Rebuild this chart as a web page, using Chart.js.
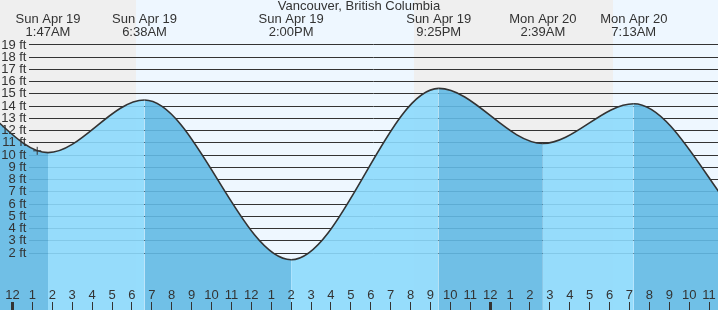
<!DOCTYPE html>
<html>
<head>
<meta charset="utf-8">
<script src="https://cdn.jsdelivr.net/npm/chart.js@4.4.1/dist/chart.umd.min.js"></script>
<style>
html,body{margin:0;padding:0;background:#fff;overflow:hidden;}
#wrap{position:relative;width:718px;height:310px;}
canvas{display:block;}
</style>
</head>
<body>
<div id="wrap"><canvas id="c" width="718" height="310"></canvas></div>
<script>
// ---------------- data ----------------
const titleText = 'Vancouver, British Columbia';
// tide turning points: hours since Sun Apr 19 00:00, heights in ft
// (first two and last two are estimated off-screen turning points)
const tideHours   = [-10.4, -3.2, 1.783, 6.633, 14.0, 21.417, 26.65, 31.217, 38.7, 46.0];
const tideHeights = [1.2, 15.2, 10.2, 14.5, 1.45, 15.45, 10.95, 14.2, 2.3, 15.4];
// labelled extremes (top axis)
const extremeHours  = [1.783, 6.633, 14.0, 21.417, 26.65, 31.217];
const extremeLabels = [
  ['Sun Apr 19', '1:47AM'],
  ['Sun Apr 19', '6:38AM'],
  ['Sun Apr 19', '2:00PM'],
  ['Sun Apr 19', '9:25PM'],
  ['Mon Apr 20', '2:39AM'],
  ['Mon Apr 20', '7:13AM']
];
// current time marker
const nowHours   = [1.24];
const nowHeights = [10.35];
// night shading (hours)
const nightStartHours = [-6, 20.18];
const nightEndHours   = [6.19, 30.18];
// bottom hour ticks
const hourTickValues = [0,1,2,3,4,5,6,7,8,9,10,11,12,13,14,15,16,17,18,19,20,21,22,23,24,25,26,27,28,29,30,31,32,33,34,35];
const hourTickLabels = ['12','1','2','3','4','5','6','7','8','9','10','11','12','1','2','3','4','5','6','7','8','9','10','11',
                        '12','1','2','3','4','5','6','7','8','9','10','11'];
// y ticks (ft)
const yTickValues = [2,3,4,5,6,7,8,9,10,11,12,13,14,15,16,17,18,19];

// ---------------- style / layout ----------------
const X_MIN = -0.63, X_MAX = 35.45;
const Y_MIN = -2.655, Y_MAX = 21.61;
const DAY = '#eef7ff', NIGHT = '#efefef';
const WATER_LIGHT = 'rgba(140,217,252,0.9)';
const WATER_DARK  = 'rgba(98,185,228,0.9)';
const INK = '#333333';
const FONT = "'Liberation Sans', Arial, Helvetica, sans-serif";

Chart.defaults.font.family = FONT;
Chart.defaults.font.size = 13;
Chart.defaults.color = INK;

const bgPlugin = {
  id: 'bgBands',
  beforeDraw(chart) {
    const {ctx, width, height} = chart;
    const xs = chart.scales.x;
    ctx.save();
    ctx.fillStyle = DAY;
    ctx.fillRect(0, 0, width, height);
    ctx.fillStyle = NIGHT;
    for (let i = 0; i < nightStartHours.length; i++) {
      const a = Math.max(0, Math.round(xs.getPixelForValue(nightStartHours[i])));
      const b = Math.min(width, Math.round(xs.getPixelForValue(nightEndHours[i])));
      if (b > a) ctx.fillRect(a, 0, b - a, height);
    }
    ctx.restore();
  }
};

const hGridPlugin = {
  id: 'hGrid',
  beforeDatasetsDraw(chart) {
    const {ctx, chartArea} = chart;
    const ys = chart.scales.y;
    ctx.save();
    ctx.strokeStyle = INK;
    ctx.lineWidth = 1;
    ctx.beginPath();
    for (const v of yTickValues) {
      const p = Math.round(ys.getPixelForValue(v) - 0.5) + 0.5;
      ctx.moveTo(29, p);
      ctx.lineTo(chartArea.right, p);
    }
    ctx.stroke();
    ctx.restore();
  }
};

new Chart(document.getElementById('c'), {
  type: 'line',
  data: {
    datasets: [
      {
        label: 'now',
        data: nowHours.map((h, i) => ({x: h, y: nowHeights[i]})),
        showLine: false,
        pointStyle: 'cross',
        pointRadius: 4,
        borderColor: INK,
        borderWidth: 1,
        fill: false
      },
      {
        label: 'tide',
        data: tideHours.map((h, i) => ({x: h, y: tideHeights[i]})),
        cubicInterpolationMode: 'monotone',
        capBezierPoints: false,
        borderColor: INK,
        borderWidth: 1.6,
        pointRadius: 0,
        fill: 'start',
        backgroundColor: WATER_LIGHT,
        segment: {
          backgroundColor: ctx => ctx.p0.parsed.y > ctx.p1.parsed.y ? WATER_DARK : WATER_LIGHT
        }
      }
    ]
  },
  options: {
    responsive: false,
    maintainAspectRatio: false,
    devicePixelRatio: 1,
    animation: false,
    events: [],
    layout: {padding: 0, autoPadding: false},
    plugins: {
      legend: {display: false},
      tooltip: {enabled: false},
      title: {
        display: true,
        text: titleText,
        color: INK,
        font: {size: 13, weight: 'normal', lineHeight: 1},
        padding: {top: 0, bottom: 0}
      }
    },
    scales: {
      x: {
        type: 'linear',
        min: X_MIN, max: X_MAX,
        bounds: 'data',
        position: {y: -2.0},
        border: {display: false},
        grid: {
          display: true,
          z: 1,
          drawOnChartArea: false,
          drawTicks: true,
          tickLength: 8,
          lineWidth: c => (c.tick && c.tick.value % 24 === 0) ? 3 : 1,
          tickWidth: c => (c.tick && c.tick.value % 24 === 0) ? 3 : 1,
          tickColor: INK,
          color: INK
        },
        afterBuildTicks: s => { s.ticks = hourTickValues.map(v => ({value: v})); },
        ticks: {
          z: 1,
          autoSkip: false,
          maxRotation: 0,
          padding: -21.3,
          color: INK,
          font: {size: 13, lineHeight: 1},
          callback: (v, i) => hourTickLabels[i]
        }
      },
      xTop: {
        type: 'linear',
        axis: 'x',
        min: X_MIN, max: X_MAX,
        bounds: 'data',
        position: {y: 21.56},
        border: {display: false},
        grid: {display: false, drawTicks: false, tickLength: 0},
        afterBuildTicks: s => { s.ticks = extremeHours.map(v => ({value: v})); },
        ticks: {
          z: 1,
          autoSkip: false,
          maxRotation: 0,
          padding: 0,
          color: INK,
          font: {size: 13, lineHeight: '12.3px'},
          callback: (v, i) => extremeLabels[i]
        }
      },
      y: {
        type: 'linear',
        min: Y_MIN, max: Y_MAX,
        bounds: 'data',
        position: {x: 0.70},
        border: {display: false},
        grid: {display: false, drawTicks: false, tickLength: 0},
        afterBuildTicks: s => { s.ticks = yTickValues.map(v => ({value: v})); },
        ticks: {
          z: 1,
          autoSkip: false,
          padding: -10,
          color: INK,
          font: {size: 13, lineHeight: 1},
          callback: v => v + ' ft'
        }
      }
    }
  },
  plugins: [bgPlugin, hGridPlugin]
});
</script>
</body>
</html>
